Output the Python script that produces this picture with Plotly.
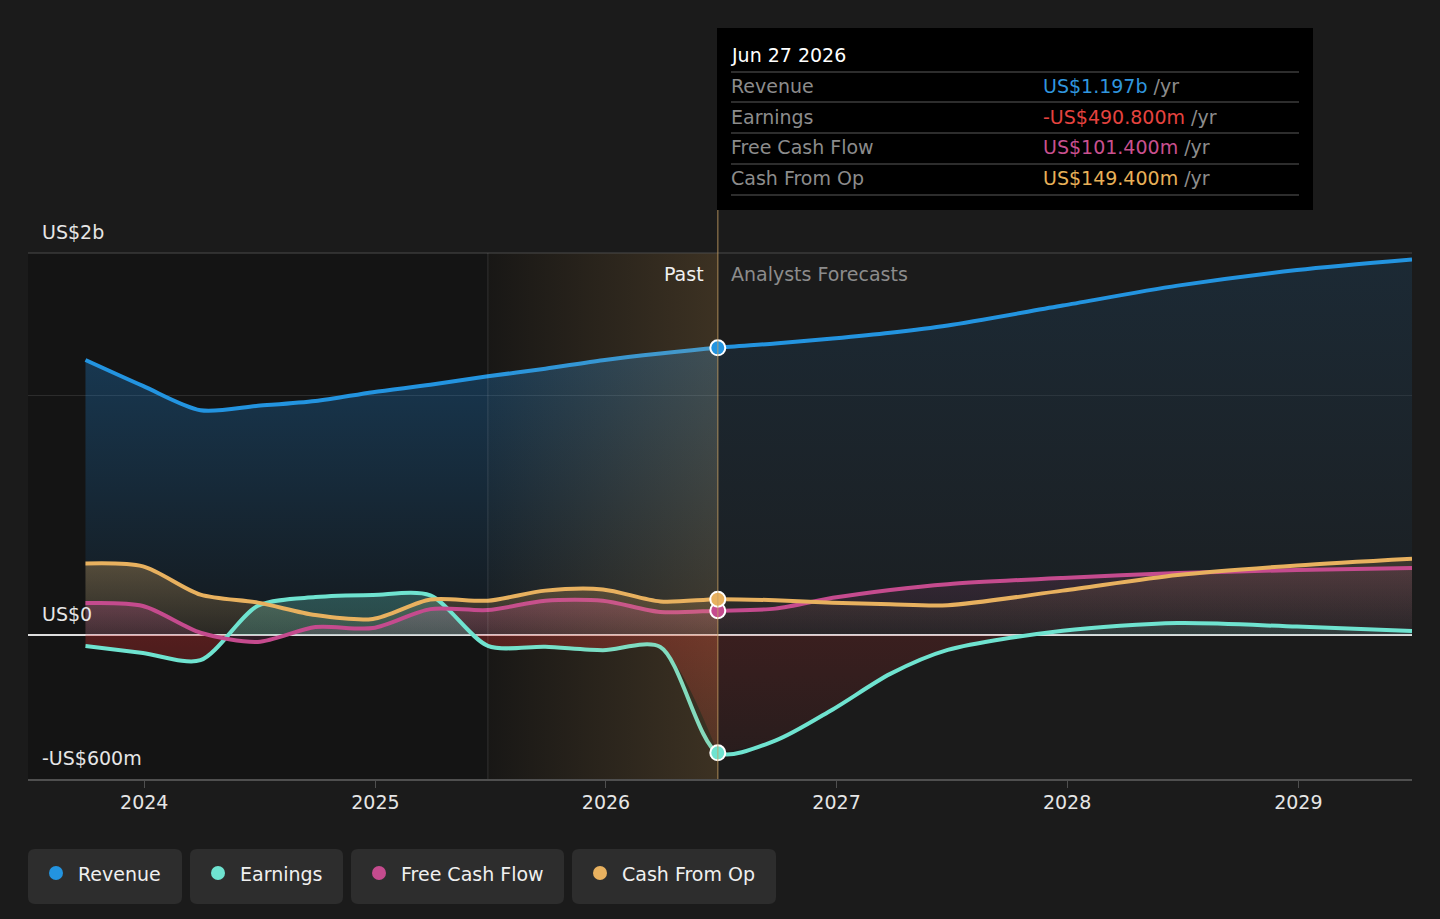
import plotly.graph_objects as go

# ------------------------------------------------------------------
# data (US$ millions)
# ------------------------------------------------------------------
past_dates = ["2023-09-30", "2023-12-30", "2024-03-30", "2024-06-29",
              "2024-09-28", "2024-12-28", "2025-03-29", "2025-06-28",
              "2025-09-27", "2025-12-27", "2026-03-28", "2026-06-27"]
forecast_dates = ["2026-06-27", "2026-09-26", "2026-12-26", "2027-03-27",
                  "2027-06-26", "2027-12-25", "2028-06-24", "2028-12-30",
                  "2029-06-30"]

revenue_past = [1146, 1038, 937, 955, 975, 1012, 1043, 1078, 1110, 1145, 1173, 1197]
earnings_past = [-46, -75, -105, 122, 158, 167, 165, -45, -49, -63, -50, -490.8]
fcf_past = [133, 121, 10, -29, 33, 29, 108, 104, 143, 143, 96, 101.4]
cfo_past = [298, 286, 168, 135, 83, 67, 148, 143, 185, 190, 140, 149.4]

revenue_fc = [1197, 1215, 1236, 1260, 1290, 1373, 1456, 1521, 1565]
earnings_fc = [-490.8, -440, -310, -162, -62, 18, 50, 35, 17]
fcf_fc = [101.4, 110, 155, 188, 212, 238, 258, 271, 279]
cfo_fc = [149.4, 145, 135, 128, 124, 185, 250, 290, 318]

year_ticks = ["2024-01-01", "2025-01-01", "2026-01-01",
              "2027-01-01", "2028-01-01", "2029-01-01"]
year_labels = ["2024", "2025", "2026", "2027", "2028", "2029"]

series_names = ["Revenue", "Earnings", "Free Cash Flow", "Cash From Op"]
series_colors = ["#2394e0", "#6fe3d0", "#c54b8e", "#e8b15f"]

tip_date = "Jun 27 2026"
tip_values = ["US$1.197b", "-US$490.800m", "US$101.400m", "US$149.400m"]
tip_colors = ["#3096de", "#e5433f", "#c9508f", "#e8b058"]

x_start, x_end = "2023-07-01", "2029-06-30"
band_start = "2025-06-28"
today = "2026-06-27"
y_min, y_max = -600, 1592

# ------------------------------------------------------------------
# page geometry
# ------------------------------------------------------------------
W, H = 1440, 919
L, R, T, B = 28, 28, 253, 140
FONT = "DejaVu Sans"


def px(x):
    return (x - L) / (W - L - R)


def py(y):
    return (H - B - y) / (H - T - B)


def rounded_box(x0, y0, x1, y1, r=7):
    # pixel box -> paper path with rounded corners
    rx = r / (W - L - R)
    ry = r / (H - T - B)
    a, b, c, d = px(x0), py(y1), px(x1), py(y0)
    return (f"M {a + rx},{b} L {c - rx},{b} Q {c},{b} {c},{b + ry} "
            f"L {c},{d - ry} Q {c},{d} {c - rx},{d} L {a + rx},{d} "
            f"Q {a},{d} {a},{d - ry} L {a},{b + ry} Q {a},{b} {a + rx},{b} Z")


all_dates = past_dates + forecast_dates[1:]
revenue = revenue_past + revenue_fc[1:]
earnings = earnings_past + earnings_fc[1:]
fcf = fcf_past + fcf_fc[1:]
cfo = cfo_past + cfo_fc[1:]

fig = go.Figure()

SPL = dict(shape="spline", smoothing=0.8)


def add_fill(x, y, scale, start, stop):
    fig.add_trace(go.Scatter(
        x=x, y=y, mode="lines", fill="tozeroy",
        line=dict(width=0, **SPL),
        fillgradient=dict(type="vertical", colorscale=scale,
                          start=start, stop=stop),
        hoverinfo="skip", showlegend=False
    ))


# revenue fill
add_fill(past_dates, revenue_past,
         [[0, "rgba(33,150,243,0.04)"], [1, "rgba(33,150,243,0.28)"]], 0, 1200)
add_fill(forecast_dates, revenue_fc,
         [[0, "rgba(33,150,243,0.03)"], [1, "rgba(33,150,243,0.12)"]], 0, 1600)

# cash from op fill
add_fill(past_dates, cfo_past,
         [[0, "rgba(233,176,96,0.10)"], [1, "rgba(233,176,96,0.30)"]], 0, 300)
add_fill(forecast_dates, cfo_fc,
         [[0, "rgba(233,176,96,0.03)"], [1, "rgba(233,176,96,0.16)"]], 0, 320)

# free cash flow fill
add_fill(past_dates, fcf_past,
         [[0, "rgba(200,80,143,0.15)"], [1, "rgba(200,80,143,0.30)"]], 0, 150)
add_fill(forecast_dates, fcf_fc,
         [[0, "rgba(200,80,143,0.04)"], [1, "rgba(200,80,143,0.16)"]], 0, 280)

# earnings fill: red below zero, teal above
add_fill(past_dates, earnings_past,
         [[0, "rgba(220,50,50,0.10)"], [0.4999, "rgba(220,50,50,0.32)"],
          [0.5001, "rgba(110,231,212,0.22)"], [1, "rgba(110,231,212,0.35)"]],
         -600, 600)
add_fill(forecast_dates, earnings_fc,
         [[0, "rgba(220,50,50,0.05)"], [0.7499, "rgba(220,50,50,0.16)"],
          [0.7501, "rgba(110,231,212,0.12)"], [1, "rgba(110,231,212,0.18)"]],
         -600, 200)

# lines
for name, ys, col in zip(series_names, [revenue, earnings, fcf, cfo], series_colors):
    fig.add_trace(go.Scatter(
        x=all_dates, y=ys, mode="lines", name=name,
        line=dict(color=col, width=4, **SPL),
        hoverinfo="skip", showlegend=False
    ))

# last twelve months band drawn over the lines
fig.add_trace(go.Scatter(
    x=[band_start, today, today, band_start, band_start],
    y=[y_min, y_min, y_max, y_max, y_min],
    mode="lines", fill="toself", line=dict(width=0),
    fillgradient=dict(type="horizontal",
                      colorscale=[[0, "rgba(233,176,96,0.02)"],
                                  [1, "rgba(233,176,96,0.19)"]]),
    hoverinfo="skip", showlegend=False
))

# markers at the present date
for ys, col in zip([revenue_past, earnings_past, fcf_past, cfo_past], series_colors):
    fig.add_trace(go.Scatter(
        x=[past_dates[-1]], y=[ys[-1]], mode="markers",
        marker=dict(size=15, color=col, line=dict(color="white", width=2)),
        hoverinfo="skip", showlegend=False
    ))

shapes = [
    # darker past background
    dict(type="rect", xref="x", yref="paper", x0=x_start, x1=today, y0=0, y1=1,
         fillcolor="#141414", line=dict(width=0), layer="below"),
    # top border
    dict(type="line", xref="paper", yref="paper", x0=0, x1=1, y0=1, y1=1,
         line=dict(color="#4a4a4a", width=1)),
    # band start line
    dict(type="line", xref="x", yref="paper", x0=band_start, x1=band_start, y0=0, y1=1,
         line=dict(color="rgba(255,255,255,0.12)", width=1)),
    # today line up to the tooltip
    dict(type="line", xref="x", yref="paper", x0=today, x1=today, y0=0, y1=py(28),
         line=dict(color="rgba(200,160,100,0.55)", width=1.5)),
    # tooltip box
    dict(type="rect", xref="paper", yref="paper", x0=px(717), x1=px(1313),
         y0=py(210), y1=py(28), fillcolor="#000000", line=dict(width=0)),
]
for yy in [72, 102, 133, 164, 195]:
    shapes.append(dict(type="line", xref="paper", yref="paper", x0=px(731), x1=px(1299),
                       y0=py(yy), y1=py(yy), line=dict(color="#3c3c3c", width=1.5)))

annotations = [
    dict(x=px(729), y=py(55), text=tip_date, font=dict(color="#ffffff", size=19)),
    dict(x=px(40), y=py(232), text="US$2b", font=dict(color="#e6e6e6", size=19)),
    dict(x=px(40), y=py(614), text="US$0", font=dict(color="#e6e6e6", size=19)),
    dict(x=px(40), y=py(758), text="-US$600m", font=dict(color="#e6e6e6", size=19)),
    dict(x=px(706), y=py(274), text="Past", xanchor="right",
         font=dict(color="#f0f0f0", size=19)),
    dict(x=px(729), y=py(274), text="Analysts Forecasts",
         font=dict(color="#8c8c8c", size=19)),
]
for i, (name, val, col) in enumerate(zip(series_names, tip_values, tip_colors)):
    yy = 86 + i * 30.5
    annotations.append(dict(x=px(729), y=py(yy), text=name,
                            font=dict(color="#8c8c8c", size=19)))
    annotations.append(dict(x=px(1041), y=py(yy),
                            text=f"<span style='color:{col}'>{val}</span> /yr",
                            font=dict(color="#8c8c8c", size=19)))

# legend buttons
legend_boxes = [(28, 182), (190, 343), (351, 564), (572, 776)]
for (x0, x1), name, col in zip(legend_boxes, series_names, series_colors):
    shapes.append(dict(type="path", xref="paper", yref="paper",
                       path=rounded_box(x0, 849, x1, 904),
                       fillcolor="#2d2d2d", line=dict(width=0)))
    cx = x0 + 28
    shapes.append(dict(type="circle", xref="paper", yref="paper",
                       x0=px(cx - 7), x1=px(cx + 7), y0=py(880), y1=py(866),
                       fillcolor=col, line=dict(width=0)))
    annotations.append(dict(x=px(cx + 20), y=py(874), text=name,
                            font=dict(color="#f0f0f0", size=19)))

for a in annotations:
    a.setdefault("xref", "paper")
    a.setdefault("yref", "paper")
    a.setdefault("xanchor", "left")
    a.setdefault("yanchor", "middle")
    a.setdefault("showarrow", False)

fig.update_layout(
    width=W, height=H,
    margin=dict(l=L, r=R, t=T, b=B),
    paper_bgcolor="#1b1b1b",
    plot_bgcolor="#1b1b1b",
    font=dict(family=FONT, color="#e6e6e6", size=19),
    showlegend=False,
    shapes=shapes,
    annotations=annotations,
    xaxis=dict(
        type="date", range=[x_start, x_end],
        tickvals=year_ticks, ticktext=year_labels,
        showgrid=False, zeroline=False,
        showline=True, linecolor="#4f4f4f", linewidth=1.5,
        ticks="outside", ticklen=7, tickcolor="#4f4f4f",
        ticklabelstandoff=-2,
        tickfont=dict(color="#e6e6e6", size=19)
    ),
    yaxis=dict(
        range=[y_min, y_max],
        tickvals=[1000], showticklabels=False,
        showgrid=True, gridcolor="#2c2c2c", gridwidth=1,
        zeroline=True, zerolinecolor="#dddddd", zerolinewidth=2
    ),
)

fig.write_html(
    "out.html",
    config={"displayModeBar": False},
    post_script="document.body.style.margin='0';"
                "document.body.style.background='#1b1b1b';"
                "document.body.style.overflow='hidden';"
)
